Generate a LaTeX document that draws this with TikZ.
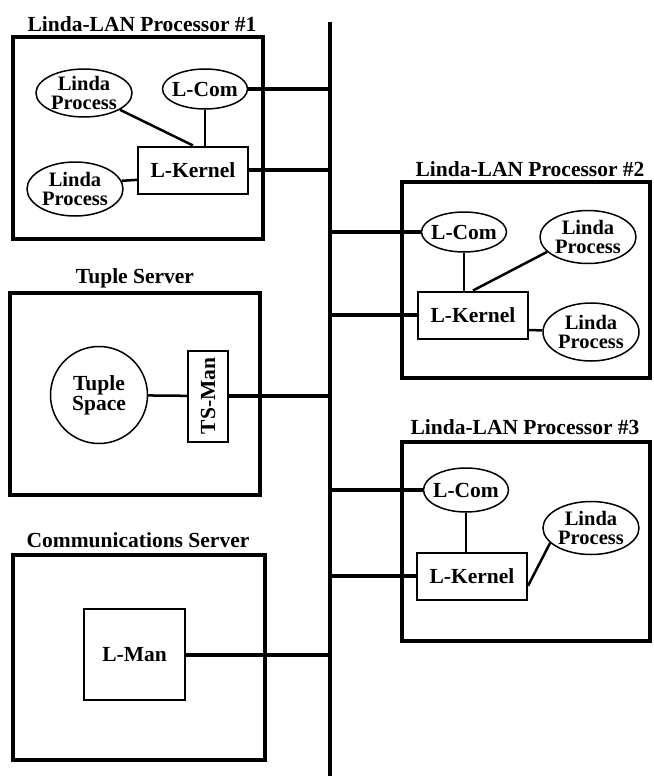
\documentclass[tikz,border=0pt]{standalone}
\usepackage{fontspec}
\setmainfont{Liberation Serif}
\usetikzlibrary{shapes.geometric, positioning}

\begin{document}
\begin{tikzpicture}[
    x=1pt, y=-1pt,
    every node/.style={font=\bfseries\fontsize{21.5}{20}\selectfont},
    hostbox/.style={draw, line width=4.5pt, inner sep=0pt},
    boxtitle/.style={anchor=base, inner sep=0pt},
    proc/.style={ellipse, draw, line width=1.5pt, inner xsep=0pt, inner ysep=0pt,
                 minimum width=96, minimum height=50, align=center,
                 font=\bfseries\fontsize{20.5}{19.5}\selectfont},
    comm/.style={ellipse, draw, line width=1.5pt, inner xsep=-3pt, inner ysep=0pt,
                 minimum width=85, minimum height=40},
    kernel/.style={rectangle, draw, line width=2pt, minimum width=110, minimum height=47},
    bus/.style={line width=4.5pt},
    buslink/.style={line width=4pt},
    link/.style={line width=2.5pt}
]
\useasboundingbox (0,0) rectangle (653,776);

% ---------------- LAN ----------------
\coordinate (bustop) at (330,22);
\coordinate (busbot) at (330,776);
\draw[bus] (bustop) -- (busbot);

% ---------------- processor #1 ----------------
\node[hostbox, minimum width=250, minimum height=202] (host1) at (138,138) {};
\node[boxtitle] (title1) at (142,32) {Linda-LAN Processor \#1};

\node[proc, minimum height=44] (lp1a) at (84,93) {Linda\\Process};
\node[comm] (lcom1) at (205,89) {L-Com};
\node[kernel] (lk1) at (193,170) {L-Kernel};
\node[proc, minimum height=54] (lp1b) at (75,189) {Linda\\Process};

\draw[buslink] (lcom1) -- (lcom1 -| bustop);
\draw[buslink] (lk1) -- (lk1 -| bustop);
\draw[link] (lcom1) -- (lcom1 |- lk1.north);
\draw[link] (lp1a.-25) -- (lk1.north);
\draw[link] (lp1b.10) -- (lk1.-170);

% ---------------- processor #2 ----------------
\node[hostbox, minimum width=248, minimum height=196] (host2) at (526,280) {};
\node[boxtitle] (title2) at (530,176) {Linda-LAN Processor \#2};

\node[comm] (lcom2) at (464,232) {L-Com};
\node[proc, minimum height=53] (lp2a) at (588,237) {Linda\\Process};
\node[kernel] (lk2) at (473,315) {L-Kernel};
\node[proc, minimum height=58] (lp2b) at (591,332) {Linda\\Process};

\draw[buslink] (lcom2) -- (lcom2 -| bustop);
\draw[buslink] (lk2) -- (lk2 -| bustop);
\draw[link] (lcom2) -- (lcom2 |- lk2.north);
\draw[link] (lk2.north) -- (lp2a.200);
\draw[link] (lk2.-15) -- (lp2b);

% ---------------- processor #3 ----------------
\node[hostbox, minimum width=248, minimum height=199] (host3) at (526,541.5) {};
\node[boxtitle] (title3) at (525,434) {Linda-LAN Processor \#3};

\node[comm, minimum height=44] (lcom3) at (466,490) {L-Com};
\node[proc, minimum height=53] (lp3) at (591,528) {Linda\\Process};
\node[kernel] (lk3) at (472,576) {L-Kernel};

\draw[buslink] (lcom3) -- (lcom3 -| bustop);
\draw[buslink] (lk3) -- (lk3 -| bustop);
\draw[link] (lcom3) -- (lcom3 |- lk3.north);
\draw[link] (lk3.-10) -- (lp3.-160);

% ---------------- tuple server ----------------
\node[hostbox, minimum width=250, minimum height=202] (host4) at (135,394) {};
\node[boxtitle] (title4) at (135,283) {Tuple Server};

\node[circle, draw, line width=1.5pt, inner sep=0pt, minimum size=97, align=center]
  (tspace) at (99,395) {Tuple\\Space};
\node[draw, line width=2pt, rotate=90, minimum width=91, minimum height=40,
  inner sep=0pt] (tsman) at (208,396) {TS-Man};

\draw[link] (tspace) -- (tsman);
\draw[buslink] (tsman) -- (tsman -| bustop);

% ---------------- communications server ----------------
\node[hostbox, minimum width=252, minimum height=205] (host5) at (139,657.5) {};
\node[boxtitle] (title5) at (138,547) {Communications Server};

\node[draw, line width=2pt, minimum width=101, minimum height=91] (lman) at (134.5,654.5) {L-Man};

\draw[buslink] (lman) -- (lman -| bustop);

\end{tikzpicture}
\end{document}
